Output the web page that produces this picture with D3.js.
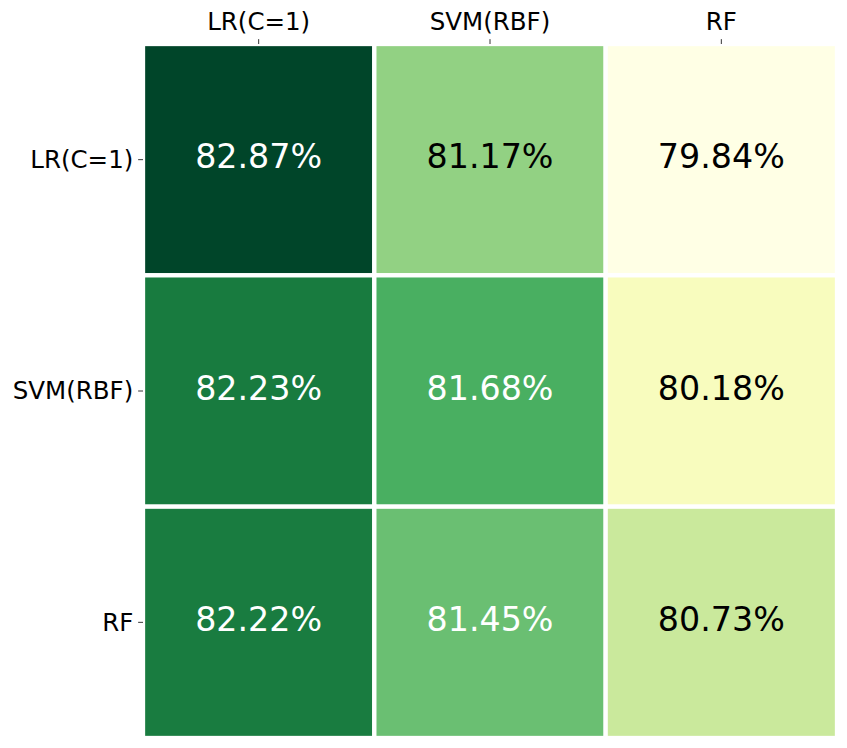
<!DOCTYPE html>
<html><head><meta charset="utf-8">
<script src="https://cdn.jsdelivr.net/npm/d3@7"></script>
<style>body{margin:0;background:#fff}svg{display:block}text{font-family:"DejaVu Sans",sans-serif}</style>
</head><body>
<svg id="c" width="847" height="748"></svg>
<script>
const rowLabels = ["LR(C=1)", "SVM(RBF)", "RF"];
const colLabels = ["LR(C=1)", "SVM(RBF)", "RF"];
const values = [
  [82.87, 81.17, 79.84],
  [82.23, 81.68, 80.18],
  [82.22, 81.45, 80.73]
];
const ylgn = ["#ffffe5","#f7fcb9","#d9f0a3","#addd8e","#78c679","#41ab5d","#238443","#006837","#004529"];

const svg = d3.select("#c");
const x0 = 143, y0 = 44, W = 694, H = 694;
const x = d3.scaleBand().domain(colLabels.map((d,i)=>i)).range([x0, x0+W]);
const y = d3.scaleBand().domain(rowLabels.map((d,i)=>i)).range([y0, y0+H]);
const flat = values.flat();
const vmin = d3.min(flat), vmax = d3.max(flat);
const thresh = (vmin + vmax) / 2;
const norm = d3.scaleLinear().domain([vmin, vmax]).range([0,1]).clamp(true);
const cmap = d3.scaleLinear().domain(ylgn.map((d,i)=>i/(ylgn.length-1))).range(ylgn).interpolate(d3.interpolateRgb);
const color = v => cmap(norm(v));

svg.append("defs").append("clipPath").attr("id","clip")
  .append("rect").attr("x",x0).attr("y",y0).attr("width",W).attr("height",H);

const cells = [];
values.forEach((row,i)=>row.forEach((v,j)=>cells.push({i,j,v})));

const g = svg.append("g").attr("clip-path","url(#clip)");
g.selectAll("rect").data(cells).join("rect")
  .attr("x",d=>x(d.j)).attr("y",d=>y(d.i))
  .attr("width",x.bandwidth()).attr("height",y.bandwidth())
  .attr("fill",d=>color(d.v)).attr("stroke","#fff").attr("stroke-width",4.3);

const fsA = 33.3;
svg.append("g").selectAll("text").data(cells).join("text")
  .attr("x",d=>x(d.j)+x.bandwidth()/2)
  .attr("y",d=>y(d.i)+y.bandwidth()/2+0.26*fsA)
  .attr("text-anchor","middle").attr("font-size",fsA)
  .attr("fill",d=>d.v>thresh?"#fff":"#000")
  .text(d=>d.v.toFixed(2)+"%");

// Axes
const tl = 4.86, tp = 4.86;
const xAxis = d3.axisTop(x).tickSize(tl).tickPadding(tp).tickFormat(i=>colLabels[i]);
const yAxis = d3.axisLeft(y).tickSize(tl).tickPadding(tp).tickFormat(i=>rowLabels[i]);
const gx = svg.append("g").attr("transform",`translate(0,${y0})`).call(xAxis);
const gy = svg.append("g").attr("transform",`translate(${x0},0)`).call(yAxis);
[gx,gy].forEach(a=>{
  a.select(".domain").remove();
  a.selectAll(".tick line").attr("stroke","#000").attr("stroke-width",0.8);
  a.selectAll(".tick text").attr("font-size",24.5).attr("fill","#000")
   .attr("font-family","DejaVu Sans, sans-serif");
});
gx.selectAll(".tick text").attr("dy",null).attr("y",-14);
gy.selectAll(".tick text").attr("dy",null).attr("y",8.3);
</script>
</body></html>
